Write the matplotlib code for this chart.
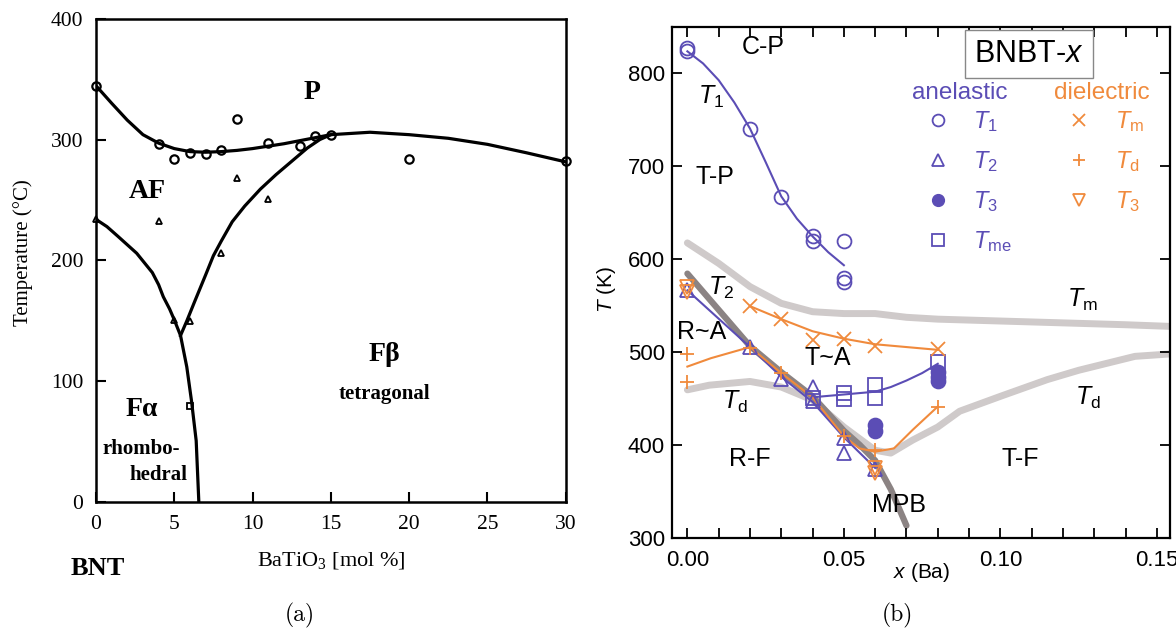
import matplotlib
matplotlib.use("Agg")
import matplotlib.pyplot as plt
from matplotlib.lines import Line2D

plt.rcParams["font.family"] = ["Liberation Sans", "DejaVu Sans"]
plt.rcParams["mathtext.fontset"] = "custom"
plt.rcParams["mathtext.rm"] = "Liberation Sans"
plt.rcParams["mathtext.it"] = "Liberation Sans:italic"

SERIF = "Liberation Serif"
PURPLE = "#5b4db5"
ORANGE = "#f08a3c"
LGRAY = "#cfcaca"
DGRAY = "#8b8383"

# ---------------- panel (a): BNT-BaTiO3 phase diagram ----------------
a_up_x = [0, 1, 2, 3, 4, 5, 6, 7, 8, 9, 10, 11, 12, 13, 14, 15, 17.5, 20, 22.5, 25, 27.5, 30]
a_up_T = [344.5, 330, 316, 304, 297, 292.5, 290, 289.5, 290, 291, 292.5, 294.5, 296.5, 299, 301.5, 304,
          306, 304, 301, 296, 289, 281.5]
a_left_x = [0, 0.7, 1.4, 2.0, 2.6, 3.1, 3.6, 4.0, 4.3, 4.7, 5.0, 5.4, 5.8, 6.1, 6.4, 6.57]
a_left_T = [234, 228, 220, 213, 206, 198, 190, 180, 170, 160, 151, 138, 112, 84, 51, 0]
a_right_x = [5.4, 5.8, 6.3, 7.0, 7.5, 8.0, 8.7, 9.5, 10.5, 11.5, 12.5, 13.5, 14.3, 15]
a_right_T = [138, 150, 166, 188, 204, 216, 232, 245, 259, 271, 282, 293, 300, 304]

a_circ_x = [0, 4, 5, 6, 7, 8, 9, 11, 13, 14, 15, 20, 30]
a_circ_T = [344, 296, 284, 289, 288, 291, 317, 297, 295, 303, 304, 284, 282]
a_tri_x = [0, 4, 5, 6, 8, 9, 11]
a_tri_T = [234, 233, 151, 150, 206, 268, 251]
a_sq_x = [6]
a_sq_T = [80]

# ---------------- panel (b): BNBT-x ----------------
t1_x = [0, 0, 0.02, 0.03, 0.04, 0.04, 0.05, 0.05, 0.05]
t1_T = [827, 823, 740, 666, 624, 619, 619, 579, 575]
t1_fit_x = [0, 0.005, 0.01, 0.015, 0.02, 0.025, 0.03, 0.035, 0.04, 0.045, 0.05]
t1_fit_T = [823, 810, 792, 768, 740, 704, 667, 643, 624, 607, 593]

t2_x = [0, 0.02, 0.03, 0.04, 0.04, 0.05, 0.05, 0.06]
t2_T = [566, 505, 471, 462, 447, 407, 391, 374]
t2_fit_x = [0, 0.02, 0.03, 0.04, 0.05, 0.06]
t2_fit_T = [566, 505, 473, 446, 408, 375]

t3a_x = [0.06, 0.06, 0.08, 0.08, 0.08]
t3a_T = [421, 415, 478, 473, 468]

tme_x = [0.04, 0.05, 0.05, 0.06, 0.06, 0.08]
tme_T = [450, 456, 449, 464, 450, 489]
tme_fit_x = [0.04, 0.05, 0.06, 0.065, 0.07, 0.075, 0.08]
tme_fit_T = [451, 454, 457, 462, 469, 477, 487]

tm_x = [0.02, 0.03, 0.04, 0.05, 0.06, 0.08]
tm_T = [549, 535, 513, 514, 506, 503]
tm_fit_x = [0.02, 0.03, 0.04, 0.05, 0.06, 0.07, 0.08]
tm_fit_T = [549, 535, 522, 514, 508, 505, 502]

td_x = [0, 0, 0.02, 0.03, 0.05, 0.06, 0.08]
td_T = [498, 467, 504, 477, 409, 394, 441]
td_fit_x = [0, 0.0075, 0.02, 0.03, 0.04, 0.05, 0.055, 0.06, 0.066, 0.072, 0.08]
td_fit_T = [484, 493, 505, 477, 451, 409, 396, 392.5, 396, 416, 441]

t3d_x = [0, 0, 0.06, 0.06]
t3d_T = [570, 564, 375, 370]

# broad guide lines
gm_x = [0, 0.01, 0.02, 0.03, 0.04, 0.05, 0.06, 0.07, 0.08, 0.09, 0.10, 0.11, 0.12, 0.13, 0.14, 0.156]
gm_T = [617, 595, 570, 552, 543, 541, 541, 537, 535, 534, 533, 532, 531, 530, 529, 527]
gd_x = [0, 0.007, 0.02, 0.03, 0.04, 0.05, 0.06, 0.065, 0.072, 0.08, 0.087, 0.1, 0.115, 0.125, 0.143, 0.156]
gd_T = [459, 464, 468, 462, 448, 419, 394, 391, 405, 419, 436, 452, 470, 480, 495, 498]
mpb_x = [0, 0.01, 0.02, 0.03, 0.04, 0.05, 0.055, 0.06, 0.065, 0.07]
mpb_T = [584, 545, 506, 478, 452, 415, 400, 383, 352, 313]

fig = plt.figure(figsize=(11.76, 6.28), dpi=100)

# ---- (a) ----
ax = fig.add_axes([0.0816, 0.1999, 0.3995, 0.7706])
ax.plot(a_up_x, a_up_T, color="black", lw=2.3)
ax.plot(a_left_x, a_left_T, color="black", lw=2.3)
ax.plot(a_right_x, a_right_T, color="black", lw=2.3)
ax.plot(a_circ_x, a_circ_T, "o", ms=6, mfc="none", mec="black", mew=1.6, clip_on=False)
ax.plot(a_tri_x, a_tri_T, "^", ms=5, mfc="none", mec="black", mew=1.3, clip_on=False)
ax.plot(a_sq_x, a_sq_T, "s", ms=5, mfc="none", mec="black", mew=1.3)
ax.set_xlim(0, 30)
ax.set_ylim(0, 400)
ax.set_xticks([0, 5, 10, 15, 20, 25, 30])
ax.set_yticks([0, 100, 200, 300, 400])
ax.tick_params(direction="in", length=7, width=1.5, labelsize=15.5, pad=9)
for lbl in ax.get_xticklabels() + ax.get_yticklabels():
    lbl.set_fontfamily(SERIF)
for s in ax.spines.values():
    s.set_linewidth(1.8)
ax.set_xlabel(r"BaTiO$_\mathregular{3}$ [mol %]", fontfamily=SERIF, fontsize=16, labelpad=12)
fig.text(23 / 1176, 1 - 253 / 628, "Temperature (°C)", rotation=90, ha="center", va="center",
         fontfamily=SERIF, fontsize=15)
bold = dict(fontfamily=SERIF, fontweight="bold", ha="center", va="center")
ax.text(13.8, 339, "P", fontsize=20, **bold)
ax.text(3.3, 257, "AF", fontsize=20, **bold)
ax.text(2.9, 77, "Fα", fontsize=20, **bold)
ax.text(2.9, 44, "rhombo-", fontsize=15, **bold)
ax.text(4.0, 23, "hedral", fontsize=15, **bold)
ax.text(18.4, 122, "Fβ", fontsize=20, **bold)
ax.text(18.4, 90, "tetragonal", fontsize=15, **bold)
ax.text(0.003, -0.136, "BNT", transform=ax.transAxes, fontsize=19, **bold)
fig.text(300 / 1176, 1 - 615 / 628, "(a)", fontfamily="cmr10", fontsize=17, ha="center", va="center")

# ---- (b) ----
bx = fig.add_axes([0.5712, 0.1438, 0.4237, 0.8137])
bx.plot(gm_x, gm_T, color=LGRAY, lw=5, solid_capstyle="round", zorder=1)
bx.plot(gd_x, gd_T, color=LGRAY, lw=5, solid_capstyle="round", zorder=1)
bx.plot(mpb_x, mpb_T, color=DGRAY, lw=4.5, solid_capstyle="round", zorder=1)

bx.plot(t1_fit_x, t1_fit_T, color=PURPLE, lw=1.5, zorder=3)
bx.plot(t2_fit_x, t2_fit_T, color=PURPLE, lw=1.5, zorder=3)
bx.plot(tme_fit_x, tme_fit_T, color=PURPLE, lw=1.5, zorder=3)
bx.plot(tm_fit_x, tm_fit_T, color=ORANGE, lw=1.5, zorder=3)
bx.plot(td_fit_x, td_fit_T, color=ORANGE, lw=1.5, zorder=3)

mk = dict(ls="none", ms=10, mew=1.3, zorder=4)
bx.plot(t1_x, t1_T, "o", mfc="none", mec=PURPLE, **mk)
bx.plot(t2_x, t2_T, "^", mfc="none", mec=PURPLE, **mk)
bx.plot(t3a_x, t3a_T, "o", mfc=PURPLE, mec=PURPLE, **mk)
bx.plot(tme_x, tme_T, "s", mfc="none", mec=PURPLE, **mk)
bx.plot(tm_x, tm_T, "x", color=ORANGE, **mk)
bx.plot(td_x, td_T, "+", color=ORANGE, **mk)
bx.plot(t3d_x, t3d_T, "v", mfc="none", mec=ORANGE, **mk)

bx.set_xlim(-0.005, 0.1542)
bx.set_ylim(300, 849.5)
bx.set_xticks([0, 0.05, 0.10, 0.15])
bx.set_xticks([i / 100 for i in range(16)], minor=True)
bx.set_xticklabels(["0.00", "0.05", "0.10", "0.15"])
bx.set_yticks([300, 400, 500, 600, 700, 800])
bx.tick_params(which="both", direction="in", length=7, width=1.3, top=True, right=True)
bx.tick_params(axis="x", labelsize=16, pad=9)
bx.tick_params(axis="y", labelsize=16, pad=5)
for s in bx.spines.values():
    s.set_linewidth(1.6)
fig.text(922 / 1176, 1 - 573 / 628, "$x$ (Ba)", ha="center", va="center", fontsize=15)
fig.text(607 / 1176, 1 - 289 / 628, "$T$ (K)", rotation=90, ha="center", va="center", fontsize=15)

lab = dict(ha="center", va="center", fontsize=18, zorder=5)
bx.text(0.0243, 828, "C-P", **lab)
bx.text(0.0076, 774, "$T_1$", **lab)
bx.text(0.0089, 688, "T-P", **lab)
bx.text(0.0108, 569, "$T_2$", **lab)
bx.text(0.0046, 521, "R~A", **lab)
bx.text(0.045, 493, "T~A", **lab)
bx.text(0.0152, 446, r"$T_\mathrm{d}$", **lab)
bx.text(0.02, 385, "R-F", **lab)
bx.text(0.0677, 335, "MPB", **lab)
bx.text(0.1062, 385, "T-F", **lab)
bx.text(0.1262, 556, r"$T_\mathrm{m}$", **lab)
bx.text(0.128, 450, r"$T_\mathrm{d}$", **lab)
bx.text(0.1092, 820, "BNBT-$x$", ha="center", va="center", fontsize=22,
        bbox=dict(boxstyle="square,pad=0.3", fc="white", ec="#888888", lw=1.0))

bx.text(0.0871, 778, "anelastic", color=PURPLE, ha="center", va="center", fontsize=17.5)
bx.text(0.1324, 778, "dielectric", color=ORANGE, ha="center", va="center", fontsize=17.5)

lg_kw = dict(frameon=False, fontsize=17, handlelength=2.2, handletextpad=0.4,
             labelspacing=0.63, borderpad=0, borderaxespad=0, markerscale=0.85)
h1 = [Line2D([], [], ls="none", marker="o", ms=10, mfc="none", mec=PURPLE, mew=1.3),
      Line2D([], [], ls="none", marker="^", ms=10, mfc="none", mec=PURPLE, mew=1.3),
      Line2D([], [], ls="none", marker="o", ms=10, mfc=PURPLE, mec=PURPLE),
      Line2D([], [], ls="none", marker="s", ms=10, mfc="none", mec=PURPLE, mew=1.3)]
leg1 = bx.legend(h1, ["$T_1$", "$T_2$", "$T_3$", r"$T_\mathrm{me}$"],
                 loc="upper left", bbox_to_anchor=(0.4814, 0.838), labelcolor=PURPLE, **lg_kw)
bx.add_artist(leg1)
h2 = [Line2D([], [], ls="none", marker="x", ms=10, color=ORANGE, mew=1.3),
      Line2D([], [], ls="none", marker="+", ms=10, color=ORANGE, mew=1.3),
      Line2D([], [], ls="none", marker="v", ms=10, mfc="none", mec=ORANGE, mew=1.3)]
bx.legend(h2, [r"$T_\mathrm{m}$", r"$T_\mathrm{d}$", "$T_3$"],
          loc="upper left", bbox_to_anchor=(0.766, 0.838), labelcolor=ORANGE, **lg_kw)

fig.text(897.5 / 1176, 1 - 615 / 628, "(b)", fontfamily="cmr10", fontsize=17, ha="center", va="center")

fig.savefig("out.png", dpi=100)
